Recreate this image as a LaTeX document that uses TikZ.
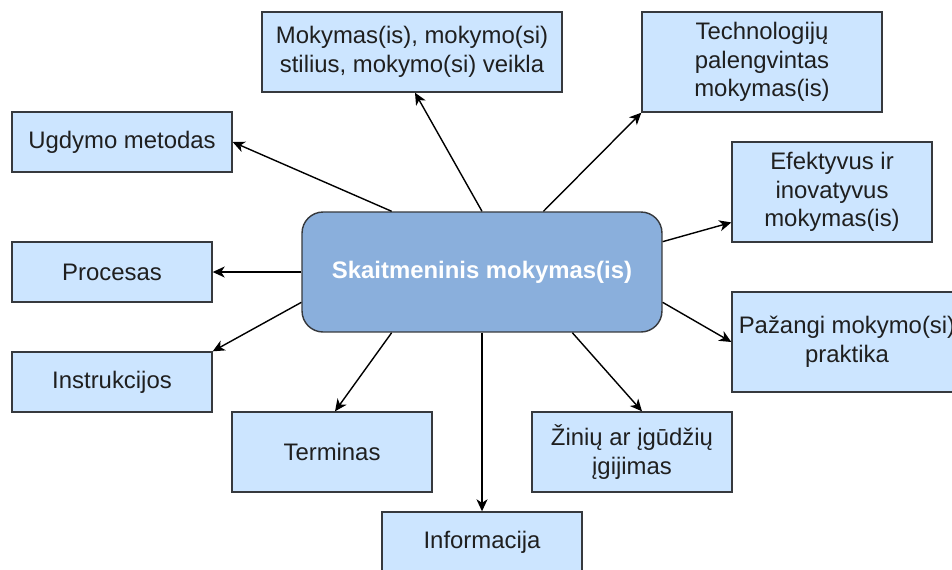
\documentclass[tikz,border=0pt]{standalone}
\usepackage{fontspec}
\setmainfont{Liberation Sans}
\usetikzlibrary{positioning}
\usetikzlibrary{arrows.meta}
\usetikzlibrary{calc}
\definecolor{topicfill}{RGB}{204,229,255}
\definecolor{hubfill}{RGB}{138,175,220}
\definecolor{topicline}{RGB}{54,57,61}
\tikzset{
    every node/.append style={
        font=\fontsize{13.6}{16.3}\selectfont,
        text=black!88,
        align=center
    },
    topic/.style 2 args={
        draw=topicline,
        fill=topicfill,
        line width=0.8pt,
        inner sep=0pt,
        minimum width=#1,
        minimum height=#2
    },
    hub/.style={
        topic={7.2cm}{2.4cm},
        fill=hubfill,
        rounded corners=0.42cm,
        text=white,
        font=\fontsize{13.6}{16.3}\selectfont\bfseries
    },
    link/.style={
        draw,
        -{Stealth[length=0.24cm,width=0.22cm,inset=0.07cm]},
        line width=0.8pt
    }
}

\begin{document}
\begin{tikzpicture}[x=0.02cm,y=-0.02cm]
    \clip (0,0) rectangle (952,569);
    % centre
    \node[hub] (main) at (482,272) {Skaitmeninis mokymas(is)};
    % topics round it
    \node[topic={4.4cm}{1.2cm}] (ugdymo) at (122,142) {Ugdymo metodas};
    \node[topic={6cm}{1.6cm}] (mokymas) at (412,52) {Mokymas(is), mokymo(si)\\stilius, mokymo(si) veikla};
    \node[topic={4.8cm}{2cm}] (techno) at (762,62) {Technologijų\\palengvintas\\mokymas(is)};
    \node[topic={4cm}{2cm}] (efekt) at (832,192) {Efektyvus ir\\inovatyvus\\mokymas(is)};
    \node[topic={4.6cm}{2cm}] (pazangi) at (847,342) {Pažangi mokymo(si)\\praktika};
    \node[topic={4cm}{1.2cm}] (procesas) at (112,272) {Procesas};
    \node[topic={4cm}{1.2cm}] (instr) at (112,382) {Instrukcijos};
    \node[topic={4cm}{1.6cm}] (terminas) at (332,452) {Terminas};
    \node[topic={4cm}{1.6cm}] (ziniu) at (632,452) {Žinių ar įgūdžių\\įgijimas};
    \node[topic={4cm}{1.2cm}] (info) at (482,542) {Informacija};
    % connectors
    \draw[link] ($(main.north west)!.25!(main.north east)$) -- (ugdymo.east);
    \draw[link] (main.north) -- ($(mokymas.south)+(3,0)$);
    \draw[link] ($(main.north west)!.67!(main.north east)$) -- (techno.south west);
    \draw[link] ($(main.north east)!.25!(main.south east)$) -- ($(efekt.north west)!.8!(efekt.south west)$);
    \draw[link] ($(main.north east)!.75!(main.south east)$) -- (pazangi.west);
    \draw[link] (main.west) -- (procesas.east);
    \draw[link] ($(main.north west)!.75!(main.south west)$) -- (instr.north east);
    \draw[link] ($(main.south west)!.25!(main.south east)$) -- ($(terminas.north)+(3,0)$);
    \draw[link] (main.south) -- (info.north);
    \draw[link] ($(main.south west)!.75!(main.south east)$) -- ($(ziniu.north)+(10,0)$);
\end{tikzpicture}
\end{document}
